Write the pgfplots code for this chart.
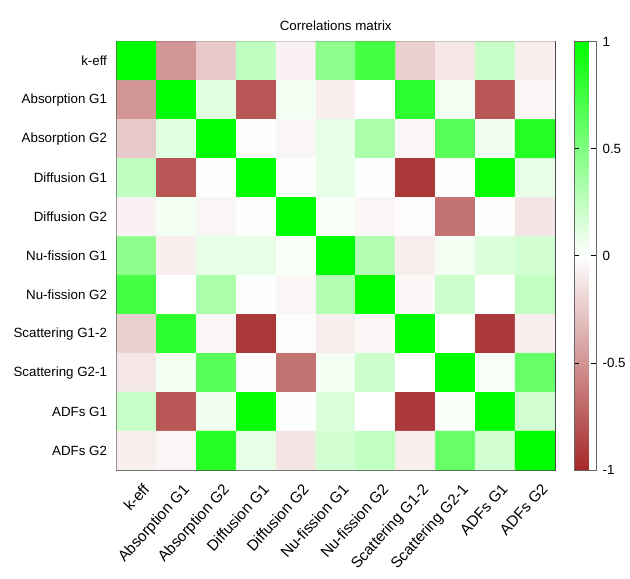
\documentclass[border=0pt]{standalone}
\usepackage{fontspec}
\setmainfont{Liberation Sans}
\usepackage{pgfplots}
\pgfplotsset{compat=1.18}
\begin{document}
\fontsize{13.5}{16}\selectfont
\begin{tikzpicture}
\begin{axis}[
  name=main,
  scale only axis, width=444pt, height=434pt,
  xmin=-0.5, xmax=10.5, ymin=-0.5, ymax=10.5, y dir=reverse,
  xtick={0,...,10}, ytick={0,...,10},
  xticklabels={k-eff,Absorption G1,Absorption G2,Diffusion G1,Diffusion G2,Nu-fission G1,Nu-fission G2,Scattering G1-2,Scattering G2-1,ADFs G1,ADFs G2},
  yticklabels={k-eff,Absorption G1,Absorption G2,Diffusion G1,Diffusion G2,Nu-fission G1,Nu-fission G2,Scattering G1-2,Scattering G2-1,ADFs G1,ADFs G2},
  x tick label style={rotate=48, anchor=north east, yshift=-8pt, xshift=-1pt, font=\fontsize{15.5}{18}\selectfont},
  y tick label style={xshift=-5pt, font=\fontsize{13.5}{16}\selectfont},
  major tick length=0pt,
  axis line style={black!70, line width=0.8pt},
  title={Correlations matrix},
  title style={font=\fontsize{13.5}{16}\selectfont, yshift=0pt},
  colormap={rg}{rgb255(0cm)=(165,40,40); rgb255(1cm)=(255,255,255); rgb255(2cm)=(0,255,0)},
  point meta min=-1, point meta max=1,
  colorbar,
  colorbar style={
    width=22pt,
    at={(parent axis.north east)}, anchor=north west, xshift=11pt,
    ytick={-1,-0.5,0,0.5,1},
    yticklabel style={font=\fontsize{13.5}{16}\selectfont, /pgf/number format/assume math mode=true, xshift=2pt},
    major tick length=5pt,
    tick align=inside,
    ytick pos=both,
    yticklabel pos=right,
    tick style={black, line width=0.6pt},
    axis line style={black!60, line width=0.8pt},
  },
]
\addplot[matrix plot*, mesh/cols=11, point meta=explicit] table[meta=c] {
x y c
0 0 1
1 0 -0.49
2 0 -0.25
3 0 0.25
4 0 -0.06
5 0 0.45
6 0 0.73
7 0 -0.22
8 0 -0.11
9 0 0.22
10 0 -0.08
0 1 -0.49
1 1 1
2 1 0.12
3 1 -0.78
4 1 0.05
5 1 -0.08
6 1 0.0
7 1 0.82
8 1 0.05
9 1 -0.78
10 1 -0.04
0 2 -0.25
1 2 0.12
2 2 1
3 2 0.01
4 2 -0.04
5 2 0.1
6 2 0.33
7 2 -0.04
8 2 0.65
9 2 0.06
10 2 0.86
0 3 0.25
1 3 -0.78
2 3 0.01
3 3 1
4 3 0.01
5 3 0.1
6 3 0.01
7 3 -0.92
8 3 -0.01
9 3 0.98
10 3 0.1
0 4 -0.06
1 4 0.05
2 4 -0.04
3 4 0.01
4 4 1
5 4 0.02
6 4 -0.04
7 4 -0.02
8 4 -0.65
9 4 0.01
10 4 -0.12
0 5 0.45
1 5 -0.08
2 5 0.1
3 5 0.1
4 5 0.02
5 5 1
6 5 0.3
7 5 -0.08
8 5 0.05
9 5 0.14
10 5 0.18
0 6 0.73
1 6 0.0
2 6 0.33
3 6 0.01
4 6 -0.04
5 6 0.3
6 6 1
7 6 -0.03
8 6 0.2
9 6 0.0
10 6 0.24
0 7 -0.22
1 7 0.82
2 7 -0.04
3 7 -0.92
4 7 -0.02
5 7 -0.08
6 7 -0.03
7 7 1
8 7 0.0
9 7 -0.92
10 7 -0.08
0 8 -0.11
1 8 0.05
2 8 0.65
3 8 -0.01
4 8 -0.65
5 8 0.05
6 8 0.2
7 8 0.0
8 8 1
9 8 0.02
10 8 0.6
0 9 0.22
1 9 -0.78
2 9 0.06
3 9 0.98
4 9 0.01
5 9 0.14
6 9 0.0
7 9 -0.92
8 9 0.02
9 9 1
10 9 0.18
0 10 -0.08
1 10 -0.04
2 10 0.86
3 10 0.1
4 10 -0.12
5 10 0.18
6 10 0.24
7 10 -0.08
8 10 0.6
9 10 0.18
10 10 1
};
\end{axis}
\path ([xshift=-118pt,yshift=-101pt]main.south west) rectangle ([xshift=68pt,yshift=42pt]main.north east);
\end{tikzpicture}
\end{document}
